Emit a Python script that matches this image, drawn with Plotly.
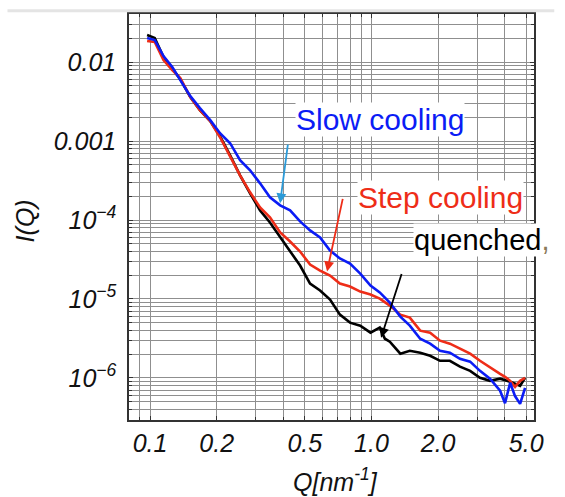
import plotly.graph_objects as go

# Slow cooling (blue)
q_slow = [0.097, 0.105, 0.115, 0.126, 0.137, 0.152, 0.168, 0.187, 0.207, 0.23, 0.255, 0.283,
          0.314, 0.348, 0.387, 0.429, 0.476, 0.528, 0.586, 0.65, 0.72, 0.80, 0.89, 0.99, 1.09,
          1.21, 1.35, 1.49, 1.66, 1.84, 2.04, 2.26, 2.51, 2.79, 3.09, 3.43, 3.81, 4.01, 4.23,
          4.45, 4.69, 4.94]
i_slow = [0.0202, 0.0190, 0.0119, 0.00864, 0.00591, 0.00370, 0.00261, 0.001837, 0.001256,
          0.000938, 0.000571, 0.000426, 0.000291, 0.0001935, 0.0001532, 0.0001323, 9.6e-5,
          7.38e-5, 6.01e-5, 4.11e-5, 3.26e-5, 2.81e-5, 2.10e-5, 1.48e-5, 1.21e-5, 9.0e-6,
          5.98e-6, 4.60e-6, 3.14e-6, 2.72e-6, 2.21e-6, 2.09e-6, 1.75e-6, 1.61e-6, 1.23e-6,
          9.8e-7, 6.9e-7, 4.8e-7, 8.7e-7, 5.9e-7, 4.7e-7, 7.5e-7]

# Step cooling (red)
q_step = [0.097, 0.105, 0.115, 0.126, 0.137, 0.152, 0.168, 0.187, 0.207, 0.23, 0.255, 0.283,
          0.314, 0.348, 0.387, 0.429, 0.476, 0.528, 0.586, 0.65, 0.72, 0.80, 0.89, 0.99, 1.09,
          1.21, 1.35, 1.49, 1.66, 1.84, 2.04, 2.26, 2.51, 2.79, 3.09, 3.43, 3.81, 4.01, 4.23,
          4.45, 4.69, 4.94]
i_step = [0.01847, 0.01794, 0.0106, 0.00792, 0.00627, 0.00360, 0.00246, 0.001784, 0.001117,
          0.000642, 0.000368, 0.000224, 0.0001445, 0.0001079, 6.96e-5, 5.35e-5, 3.99e-5,
          2.73e-5, 2.29e-5, 1.98e-5, 1.57e-5, 1.44e-5, 1.24e-5, 1.14e-5, 1.01e-5, 8.25e-6,
          6.34e-6, 5.81e-6, 3.97e-6, 3.75e-6, 2.97e-6, 2.72e-6, 2.35e-6, 2.03e-6, 1.65e-6,
          1.35e-6, 1.13e-6, 1.035e-6, 9.2e-7, 7.7e-7, 9.2e-7, 1.006e-6]

# Quenched (black)
q_quen = [0.097, 0.105, 0.115, 0.126, 0.137, 0.152, 0.168, 0.187, 0.207, 0.23, 0.255, 0.283,
          0.314, 0.348, 0.387, 0.429, 0.476, 0.528, 0.586, 0.65, 0.72, 0.80, 0.89, 0.99, 1.09,
          1.15, 1.21, 1.35, 1.49, 1.66, 1.84, 2.04, 2.26, 2.51, 2.79, 3.09, 3.43, 3.81, 4.23,
          4.69, 4.94]
i_quen = [0.0220, 0.0202, 0.01157, 0.00839, 0.00608, 0.00360, 0.00246, 0.001784, 0.00115,
          0.00066, 0.000368, 0.0002176, 0.0001323, 9.32e-5, 6.01e-5, 3.99e-5, 2.65e-5,
          1.57e-5, 1.28e-5, 9.83e-6, 6.34e-6, 5.02e-6, 4.60e-6, 3.75e-6, 4.34e-6, 3.14e-6,
          2.88e-6, 2.03e-6, 2.21e-6, 2.09e-6, 1.91e-6, 1.65e-6, 1.65e-6, 1.39e-6, 1.23e-6,
          1.006e-6, 9.2e-7, 9.8e-7, 8.95e-7, 7.96e-7, 1.006e-6]

x_tickvals = [0.1, 0.2, 0.5, 1.0, 2.0, 5.0]
x_ticktext = ["0.1", "0.2", "0.5", "1.0", "2.0", "5.0"]
y_tickvals = [1e-2, 1e-3, 1e-4, 1e-5, 1e-6]
y_ticktext = ["0.01", "0.001", "10<sup>−4</sup>", "10<sup>−5</sup>", "10<sup>−6</sup>"]

BLUE = "#0b1cf5"
RED = "#ee2d18"
BLACK = "#000000"
FONT = "Liberation Sans, Arial, sans-serif"

fig = go.Figure()
fig.add_trace(go.Scatter(x=q_quen, y=i_quen, mode="lines", line=dict(color=BLACK, width=2.6)))
fig.add_trace(go.Scatter(x=q_step, y=i_step, mode="lines", line=dict(color=RED, width=2.6)))
fig.add_trace(go.Scatter(x=q_slow, y=i_slow, mode="lines", line=dict(color=BLUE, width=2.6)))

grid = "#8f8f8f"
fig.update_xaxes(
    type="log", range=[-1.095, 0.734],
    tickvals=x_tickvals, ticktext=["<i>%s</i>" % t for t in x_ticktext],
    tickfont=dict(family=FONT, size=25, color="#111"),
    showgrid=True, gridcolor=grid, gridwidth=1,
    minor=dict(showgrid=True, gridcolor=grid, gridwidth=1, ticks="inside", ticklen=3,
               tickcolor="#333", dtick="D1"),
    showline=True, linecolor="#333", linewidth=1.5, mirror="allticks",
    ticks="inside", ticklen=4, tickcolor="#333", zeroline=False,
)
fig.update_yaxes(
    type="log", range=[-6.532, -1.392],
    tickvals=y_tickvals, ticktext=["<i>%s</i>" % t for t in y_ticktext],
    tickfont=dict(family=FONT, size=25, color="#111"),
    showgrid=True, gridcolor=grid, gridwidth=1,
    minor=dict(showgrid=True, gridcolor=grid, gridwidth=1, ticks="inside", ticklen=3,
               tickcolor="#333", dtick="D1"),
    showline=True, linecolor="#333", linewidth=1.5, mirror="allticks",
    ticks="inside", ticklen=4, tickcolor="#333", zeroline=False,
    ticklabelstandoff=6,
)

anns = []
anns.append(dict(text="Slow cooling", xref="paper", yref="paper", x=0.620, y=0.739,
                 showarrow=False, font=dict(family=FONT, size=30, color=BLUE),
                 bgcolor="white", xanchor="center", yanchor="middle", borderpad=0))
anns.append(dict(text="Step cooling", xref="paper", yref="paper", x=0.768, y=0.549,
                 showarrow=False, font=dict(family=FONT, size=30, color=RED),
                 bgcolor="white", xanchor="center", yanchor="middle", borderpad=0))
anns.append(dict(text="quenched<span style='color:#8a7a5a'>,</span>", xref="paper", yref="paper",
                 x=0.700, y=0.443, showarrow=False,
                 font=dict(family=FONT, size=29, color=BLACK),
                 bgcolor="white", xanchor="left", yanchor="middle", borderpad=0))
arrows = [
    (-0.4128, -3.789, -0.3767, -3.028, "#2b9ad8"),
    (-0.2005, -4.652, -0.1283, -3.713, RED),
    (0.0434, -5.490, 0.1382, -4.665, BLACK),
]
for hx, hy, tx, ty, c in arrows:
    anns.append(dict(x=hx, y=hy, ax=tx, ay=ty, xref="x", yref="y", axref="x", ayref="y",
                     showarrow=True, arrowhead=2, arrowsize=1.1, arrowwidth=1.8,
                     arrowcolor=c, text=""))
anns.append(dict(text="<i>I(Q)</i>", xref="paper", yref="paper", x=-0.256, y=0.49,
                 textangle=-90, showarrow=False, font=dict(family=FONT, size=25, color="#111"),
                 xanchor="center", yanchor="middle"))
anns.append(dict(text="<i>Q[nm<sup>-1</sup>]</i>", xref="paper", yref="paper", x=0.51, y=-0.147,
                 showarrow=False, font=dict(family=FONT, size=25, color="#111"),
                 xanchor="center", yanchor="middle"))

fig.update_layout(
    width=565, height=497,
    margin=dict(l=129, r=31, t=14, b=77),
    paper_bgcolor="white", plot_bgcolor="white",
    showlegend=False,
    annotations=anns,
    font=dict(family=FONT),
    shapes=[dict(type="line", xref="paper", yref="paper", x0=-0.30, x1=1.05,
                 y0=1.008, y1=1.008, line=dict(color="#e4e4e4", width=3))],
)

fig.write_html("out.html", config={"displayModeBar": False},
               post_script="document.body.style.margin='0';document.body.style.padding='0';")
